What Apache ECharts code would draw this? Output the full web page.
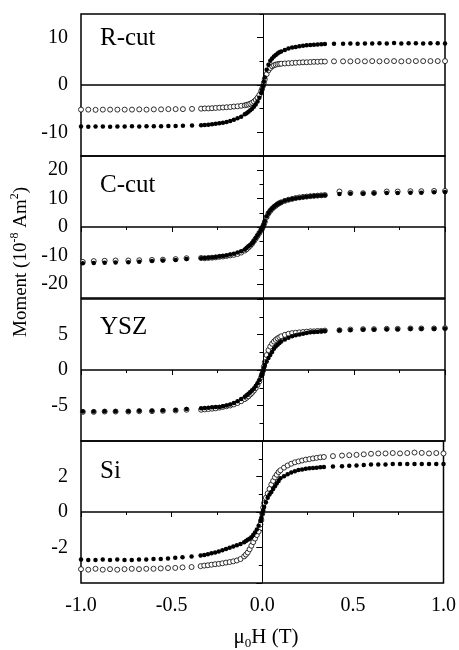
<!DOCTYPE html>
<html>
<head>
<meta charset="utf-8">
<script src="https://cdn.jsdelivr.net/npm/echarts@6/dist/echarts.min.js"></script>
<style>
html, body { margin: 0; padding: 0; background: #fff; }
#chart { width: 459px; height: 650px; }
</style>
</head>
<body>
<div id="chart"></div>
<script>
// field values (T): sparse far from zero, dense around zero
var fieldDense = [-0.34, -0.32, -0.30, -0.28, -0.26, -0.24, -0.22, -0.20, -0.18, -0.16, -0.14, -0.12, -0.10,
    -0.09, -0.08, -0.07, -0.06, -0.05, -0.04, -0.03, -0.02, -0.01,
    -0.005, 0, 0.005,
    0.01, 0.02, 0.03, 0.04, 0.05, 0.06, 0.07, 0.08, 0.09,
    0.10, 0.12, 0.14, 0.16, 0.18, 0.20, 0.22, 0.24, 0.26, 0.28, 0.30, 0.32, 0.34];
var fieldWideNeg = [-1.00, -0.96, -0.92, -0.88, -0.84, -0.80, -0.76, -0.72, -0.68, -0.64, -0.60, -0.56, -0.52, -0.48, -0.44, -0.39];
var fieldWidePos = [0.39, 0.44, 0.48, 0.52, 0.56, 0.60, 0.64, 0.68, 0.72, 0.76, 0.80, 0.84, 0.88, 0.92, 0.96, 1.00];
var fieldCoarseNeg = [-0.99, -0.93, -0.87, -0.81, -0.74, -0.68, -0.61, -0.55, -0.48, -0.42];
var fieldCoarsePos = [0.42, 0.48, 0.55, 0.61, 0.68, 0.74, 0.81, 0.87, 0.94, 1.00];

// moments (10^-8 Am^2), same order as the field lists
var rcutFilled = [-8.75, -8.8, -8.75, -8.75, -8.8, -8.75, -8.75, -8.7, -8.75, -8.7, -8.7, -8.7, -8.65, -8.65, -8.6, -8.55,
    -8.5, -8.45, -8.4, -8.3, -8.2, -8.1, -7.95, -7.8, -7.6, -7.35, -7.05, -6.7, -6.2,
    -5.95, -5.65, -5.35, -5.0, -4.6, -4.1, -3.5, -2.7, -1.7,
    -1.0, -0.2, 0.7,
    1.6, 3.2, 4.3, 5.1, 5.6, 6.0, 6.35, 6.65, 6.9,
    7.1, 7.4, 7.7, 7.9, 8.05, 8.2, 8.3, 8.4, 8.45, 8.5, 8.55, 8.6, 8.65,
    8.7, 8.7, 8.75, 8.7, 8.75, 8.75, 8.8, 8.75, 8.85, 8.75, 8.8, 8.8, 8.75, 8.8, 8.8, 8.75];
var rcutOpen = [-5.2, -5.2, -5.25, -5.2, -5.2, -5.2, -5.2, -5.2, -5.15, -5.2, -5.15, -5.15, -5.1, -5.1, -5.1, -5.05,
    -5.0, -4.95, -4.95, -4.9, -4.85, -4.8, -4.75, -4.7, -4.65, -4.55, -4.5, -4.4, -4.3,
    -4.2, -4.1, -3.95, -3.75, -3.5, -3.15, -2.7, -2.1, -1.3,
    -0.8, -0.2, 0.5,
    1.2, 2.3, 3.1, 3.6, 3.95, 4.15, 4.3, 4.4, 4.45,
    4.5, 4.55, 4.6, 4.65, 4.7, 4.75, 4.8, 4.8, 4.85, 4.9, 4.9, 4.95, 4.95,
    5.0, 5.0, 5.0, 5.05, 5.0, 5.05, 5.0, 5.05, 5.05, 5.0, 5.05, 5.05, 5.05, 5.05, 5.05, 5.05];
var ccutFilled = [-12.8, -12.7, -12.6, -12.5, -12.4, -12.2, -12.0, -11.8, -11.6, -11.3,
    -11.0, -10.9, -10.8, -10.7, -10.6, -10.4, -10.2, -10.0, -9.7, -9.4, -9.0, -8.5, -7.9,
    -7.3, -6.8, -6.3, -5.7, -4.9, -4.0, -3.0, -2.0, -1.0,
    -0.5, 0.2, 1.0,
    2.0, 3.7, 4.9, 5.8, 6.5, 7.1, 7.6, 8.1, 8.4,
    8.7, 9.2, 9.6, 9.9, 10.1, 10.3, 10.5, 10.65, 10.8, 10.9, 11.0, 11.1, 11.2,
    11.6, 11.8, 11.8, 11.9, 12.0, 12.0, 12.1, 12.1, 12.2, 12.3];
var ccutOpen = [-12.3, -12.0, -11.9, -11.8, -11.8, -11.7, -11.6, -11.5, -11.3, -11.0,
    -10.9, -11.0, -10.9, -10.8, -10.7, -10.5, -10.4, -10.2, -10.0, -9.8, -9.5, -9.0, -8.3,
    -7.8, -7.2, -6.6, -5.9, -5.0, -4.1, -3.1, -2.1, -1.1,
    -0.6, 0.1, 0.9,
    1.8, 3.5, 4.8, 5.7, 6.4, 7.0, 7.5, 8.0, 8.4,
    8.7, 9.2, 9.6, 9.9, 10.2, 10.4, 10.6, 10.7, 10.85, 10.95, 11.05, 11.15, 11.25,
    12.5, 12.0, 11.9, 12.0, 12.5, 12.5, 12.6, 12.6, 12.7, 12.7];
var yszFilled = [-5.85, -5.85, -5.8, -5.8, -5.8, -5.75, -5.75, -5.7, -5.65, -5.5,
    -5.4, -5.35, -5.3, -5.25, -5.2, -5.2, -5.1, -5.0, -4.85, -4.65, -4.4, -4.1, -3.75,
    -3.55, -3.35, -3.1, -2.85, -2.6, -2.25, -1.85, -1.4, -0.85,
    -0.5, -0.15, 0.3,
    0.7, 1.2, 1.7, 2.1, 2.55, 3.0, 3.3, 3.55, 3.8,
    4.0, 4.3, 4.55, 4.75, 4.9, 5.0, 5.1, 5.2, 5.3, 5.35, 5.4, 5.45, 5.5,
    5.6, 5.65, 5.7, 5.7, 5.75, 5.75, 5.8, 5.8, 5.8, 5.85];
var yszOpen = [-5.9, -5.9, -5.85, -5.85, -5.85, -5.8, -5.8, -5.75, -5.7, -5.6,
    -5.6, -5.55, -5.5, -5.45, -5.4, -5.3, -5.2, -5.1, -5.0, -4.85, -4.65, -4.4, -4.1,
    -3.9, -3.7, -3.45, -3.2, -2.9, -2.55, -2.1, -1.6, -1.0,
    -0.6, -0.1, 0.5,
    1.1, 2.1, 2.8, 3.3, 3.7, 4.0, 4.25, 4.45, 4.6,
    4.75, 4.95, 5.1, 5.2, 5.25, 5.3, 5.35, 5.4, 5.45, 5.45, 5.5, 5.5, 5.55,
    5.6, 5.7, 5.75, 5.75, 5.8, 5.8, 5.85, 5.85, 5.85, 5.9];
var siFilled = [-2.68, -2.7, -2.7, -2.68, -2.7, -2.68, -2.7, -2.7, -2.68, -2.68, -2.65, -2.65, -2.62, -2.58, -2.55, -2.5,
    -2.45, -2.42, -2.38, -2.33, -2.28, -2.22, -2.15, -2.08, -2.02, -1.95, -1.87, -1.8, -1.7,
    -1.64, -1.57, -1.5, -1.42, -1.3, -1.15, -0.98, -0.78, -0.5,
    -0.32, -0.1, 0.1,
    0.3, 0.55, 0.8, 0.98, 1.12, 1.3, 1.45, 1.6, 1.75,
    1.9, 2.02, 2.12, 2.22, 2.3, 2.36, 2.4, 2.43, 2.46, 2.48, 2.5, 2.52, 2.54,
    2.56, 2.58, 2.6, 2.62, 2.65, 2.67, 2.68, 2.68, 2.7, 2.7, 2.7, 2.7, 2.71, 2.7, 2.71, 2.7];
var siOpen = [-3.22, -3.25, -3.2, -3.25, -3.22, -3.25, -3.22, -3.2, -3.22, -3.2, -3.2, -3.18, -3.16, -3.15, -3.12, -3.1,
    -3.05, -3.02, -3.0, -2.97, -2.94, -2.92, -2.89, -2.85, -2.82, -2.78, -2.73, -2.65, -2.5,
    -2.4, -2.28, -2.1, -1.9, -1.7, -1.5, -1.3, -1.1, -0.7,
    -0.45, -0.1, 0.25,
    0.5, 0.8, 1.05, 1.3, 1.55, 1.75, 1.95, 2.1, 2.25,
    2.35, 2.5, 2.62, 2.72, 2.8, 2.85, 2.9, 2.95, 2.98, 3.02, 3.05, 3.08, 3.1,
    3.15, 3.18, 3.2, 3.22, 3.25, 3.28, 3.3, 3.3, 3.32, 3.3, 3.32, 3.35, 3.33, 3.3, 3.32, 3.3];

// panels and their axes
var panelNames = ['R-cut', 'C-cut', 'YSZ', 'Si'];
var yMin = [-15, -25, -10, -4];
var yMax = [15, 25, 10, 4];
var yLabels = [[-10, 0, 10], [-20, -10, 0, 10, 20], [-5, 0, 5], [-2, 0, 2]];
var yMajorTicks = [[-10, 0, 10], [-20, -10, 0, 10, 20], [-10, -5, 0, 5, 10], [-4, -2, 0, 2, 4]];
var yMinorTicks = [[-15, -5, 5, 15], [-25, -15, -5, 5, 15, 25], [-7.5, -2.5, 2.5, 7.5], [-3, -1, 1, 3]];

var wideField = fieldWideNeg.concat(fieldDense, fieldWidePos);
var coarseField = fieldCoarseNeg.concat(fieldDense, fieldCoarsePos);
var panelField = [wideField, coarseField, coarseField, wideField];
var panelFilled = [rcutFilled, ccutFilled, yszFilled, siFilled];
var panelOpen = [rcutOpen, ccutOpen, yszOpen, siOpen];

var FONT = '"Liberation Serif", "Times New Roman", serif';
var gridTop = [14, 156, 299, 441];
var gridHeight = 142;
var labelDrop = [12, 17, 16, 18];

function pairs(xs, ys) {
    return xs.map(function(x, i) { return [x, ys[i]]; });
}

var myChart = echarts.init(document.getElementById('chart'), null, { renderer: 'canvas' });

var grids = [], xAxes = [], yAxes = [], series = [], titles = [];
for (var i = 0; i < 4; i++) {
    grids.push({
        left: 81, width: 364, top: gridTop[i], height: gridHeight,
        show: true, borderColor: '#000', borderWidth: 1.5, backgroundColor: 'transparent'
    });
    // bottom axis (labels only on the last panel)
    xAxes.push({
        gridIndex: i, type: 'value', min: -1, max: 1, interval: 0.5, position: 'bottom',
        axisLine: { show: false },
        splitLine: { show: false },
        axisTick: { show: i === 3, length: 5, lineStyle: { color: '#000', width: 1 } },
        minorTick: { show: i === 3, splitNumber: 2, length: 3, lineStyle: { color: '#000', width: 1 } },
        axisLabel: {
            show: i === 3, color: '#000', fontFamily: FONT, fontSize: 20, margin: 13,
            formatter: function(v) { return v.toFixed(1); }
        }
    });
    // top axis, inward ticks on the lower three panels
    xAxes.push({
        gridIndex: i, type: 'value', min: -1, max: 1, interval: 0.5, position: 'top',
        show: i > 0,
        axisLine: { show: false },
        splitLine: { show: false },
        axisLabel: { show: false },
        axisTick: { show: true, inside: true, length: 5, lineStyle: { color: '#000', width: 1 } },
        minorTick: { show: true, splitNumber: 2, length: 3, lineStyle: { color: '#000', width: 1 } }
    });
    yAxes.push({
        gridIndex: i, type: 'value', min: yMin[i], max: yMax[i], position: 'left',
        axisLine: { show: false },
        splitLine: { show: false },
        axisTick: { show: true, length: 6, customValues: yMajorTicks[i], lineStyle: { color: '#000', width: 1 } },
        axisLabel: { color: '#000', fontFamily: FONT, fontSize: 20, margin: 13, customValues: yLabels[i] }
    });
    yAxes.push({
        gridIndex: i, type: 'value', min: yMin[i], max: yMax[i], position: 'left',
        axisLine: { show: false },
        splitLine: { show: false },
        axisLabel: { show: false },
        axisTick: { show: true, length: 3.5, customValues: yMinorTicks[i], lineStyle: { color: '#000', width: 1 } }
    });
    series.push({
        type: 'scatter', xAxisIndex: 2 * i, yAxisIndex: 2 * i, silent: true, animation: false,
        symbol: 'circle', symbolSize: 5,
        itemStyle: { color: '#fff', borderColor: '#000', borderWidth: 0.8, opacity: 1 },
        data: pairs(panelField[i], panelOpen[i]),
        markLine: {
            silent: true, symbol: ['none', 'none'], animation: false,
            label: { show: false },
            lineStyle: { color: '#000', type: 'solid' },
            data: [
                { yAxis: 0, lineStyle: { width: 1.5 } },
                { xAxis: 0, lineStyle: { width: 1 } }
            ]
        }
    });
    series.push({
        type: 'scatter', xAxisIndex: 2 * i, yAxisIndex: 2 * i, silent: true, animation: false,
        symbol: 'circle', symbolSize: 4.5,
        itemStyle: { color: '#000', opacity: 1 },
        data: pairs(panelField[i], panelFilled[i])
    });
    titles.push({
        text: panelNames[i], left: 100, top: gridTop[i] + labelDrop[i], padding: 0,
        textStyle: { fontFamily: FONT, fontSize: 25, fontWeight: 'normal', color: '#000' }
    });
}

var option = {
    backgroundColor: '#fff',
    animation: false,
    title: titles,
    grid: grids,
    xAxis: xAxes,
    yAxis: yAxes,
    series: series,
    graphic: [
        {
            type: 'text', x: 21, y: 262, rotation: Math.PI / 2,
            style: {
                text: '{t|Moment (10}{s|-8}{t| Am}{s|2}{t|)}',
                align: 'center', verticalAlign: 'middle', fill: '#000',
                rich: {
                    t: { fontFamily: FONT, fontSize: 19, lineHeight: 24, fill: '#000' },
                    s: { fontFamily: FONT, fontSize: 12, lineHeight: 14, verticalAlign: 'top', fill: '#000' }
                }
            }
        },
        {
            type: 'text', x: 266, y: 637,
            style: {
                text: '{t|\u03bc}{s|0}{t|H (T)}',
                align: 'center', verticalAlign: 'middle', fill: '#000',
                rich: {
                    t: { fontFamily: FONT, fontSize: 21, lineHeight: 26, fill: '#000' },
                    s: { fontFamily: FONT, fontSize: 13, lineHeight: 15, verticalAlign: 'bottom', fill: '#000' }
                }
            }
        }
    ]
};
myChart.setOption(option);
</script>
</body>
</html>
